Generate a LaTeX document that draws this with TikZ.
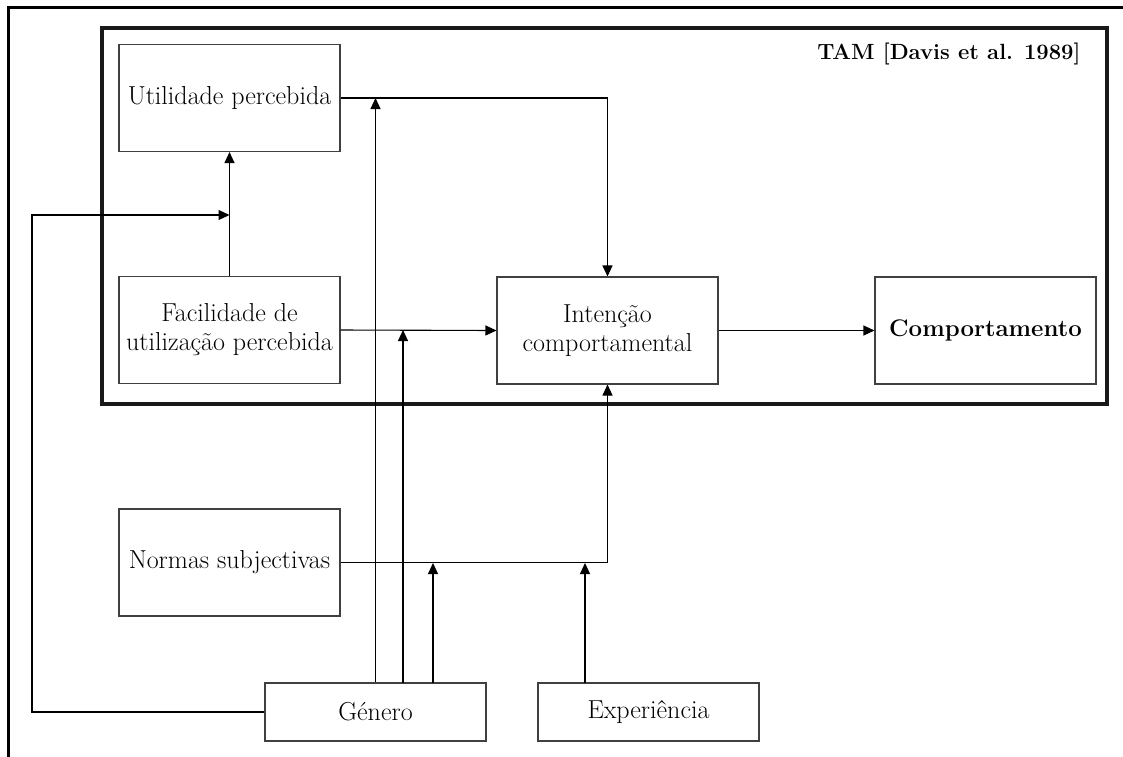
\documentclass[tikz,border=0pt]{standalone}
\usetikzlibrary{arrows.meta}

\begin{document}
\begin{tikzpicture}[x=1pt,y=-1pt,
  box/.style={draw=black!75,line width=1.1pt,minimum width=221pt,align=center,
    inner sep=0pt,font=\fontsize{26}{29}\selectfont},
  tallbox/.style={box,minimum height=107pt},
  lowbox/.style={box,minimum height=58pt},
  link/.style={line width=1.1pt,draw=black},
  arr/.style={link,-{Triangle[length=11pt,width=10pt]}}]

% page extent
\useasboundingbox (0,0) rectangle (1123,756);

% outer frame (only its top and left edges fall inside the page)
\draw[line width=3pt] (8,800) -- (8,7) -- (1200,7);

% TAM frame
\draw[line width=3.2pt,draw=black!90] (102,28) rectangle (1107,404);
\node[anchor=base east,font=\bfseries\fontsize{22}{26}\selectfont] (tam) at (1084,59)
  {TAM [Davis et al. 1989]};

% constructs
\node[tallbox] (util)   at (229.5,98)    {Utilidade percebida};
\node[tallbox] (facil)  at (229.5,330)   {Facilidade de\\utiliza\c{c}\~ao percebida};
\node[tallbox] (intent) at (607.5,330.5) {Inten\c{c}\~ao\\comportamental};
\node[tallbox,font=\bfseries\fontsize{24}{28}\selectfont] (comp) at (985.5,330.5) {Comportamento};
\node[tallbox] (normas) at (229.5,562.5) {Normas subjectivas};
\node[lowbox]  (genero) at (375.5,712)   {G\'enero};
\node[lowbox]  (exper)  at (648.5,712)   {Experi\^encia};

% junction points on the paths that the moderators act upon
\coordinate (jPU)  at (375.5,98);
\coordinate (jPEU) at (229.5,215);
\coordinate (jFI)  at (403,330);
\coordinate (jSN)  at (433,563);
\coordinate (jEX)  at (585,563);
\coordinate (gB)   at (403,683);
\coordinate (gC)   at (433,683);
\coordinate (eA)   at (585,683);

% TAM relations
\draw[arr] (util.east) -| (intent.north);
\draw[arr] (facil.north) -- (util.south);
\draw[arr] (facil.east) -- (intent.west);
\draw[arr] (intent.east) -- (comp.west);
\draw[arr] (normas.east) -| (intent.south);

% moderating effects
\draw[arr] (genero.west) -| (32,215) -- (jPEU);
\draw[arr] (genero.north) -- (jPU);
\draw[arr] (gB) -- (jFI);
\draw[arr] (gC) -- (jSN);
\draw[arr] (eA) -- (jEX);
\end{tikzpicture}
\end{document}
